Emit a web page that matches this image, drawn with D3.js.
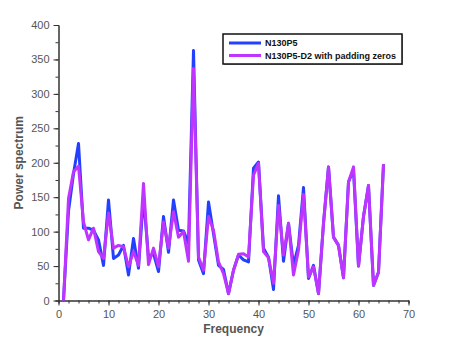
<!DOCTYPE html>
<html>
<head>
<meta charset="utf-8">
<script src="https://cdn.jsdelivr.net/npm/d3@7"></script>
<style>
  body { margin: 0; background: #fff; }
  .axis text { font-family: "Liberation Sans", Arial, sans-serif; font-size: 11px; fill: #555; }
  .axis path, .axis line { stroke: #333; }
</style>
</head>
<body>
<div id="chart"></div>
<script>
// chart size
var margin = {top: 25, right: 41.5, bottom: 37.5, left: 58.5},
    width = 450 - margin.left - margin.right,
    height = 338 - margin.top - margin.bottom;

// data
var freq = d3.range(1, 66);
var seriesNames = ["N130P5", "N130P5-D2 with padding zeros"];
var n130p5 = [0, 130, 184, 228, 105, 105, 102, 88, 51, 146,
              61, 66, 80, 37, 90, 47, 150, 63, 68, 42,
              122, 70, 146, 102, 101, 83, 363, 59, 39, 143,
              97, 51, 45, 10, 44, 66, 59, 56, 192, 201,
              76, 63, 16, 152, 57, 112, 51, 80, 164, 32,
              51, 10, 112, 194, 92, 80, 33, 172, 190, 50,
              122, 167, 22, 41, 198];
var padded = [0, 148, 187, 195, 114, 88, 105, 71, 61, 127,
              76, 80, 78, 49, 71, 51, 170, 52, 76, 49,
              114, 76, 129, 92, 100, 57, 337, 63, 44, 122,
              102, 56, 39, 10, 44, 67, 68, 63, 182, 199,
              71, 62, 25, 138, 66, 112, 37, 73, 154, 34,
              49, 10, 112, 194, 92, 80, 33, 172, 194, 50,
              122, 167, 22, 41, 198];
var colors = ["#2440ff", "#bf35ff"];
var xMajor = [0, 10, 20, 30, 40, 50, 60, 70];
var yMajor = [0, 50, 100, 150, 200, 250, 300, 350, 400];

var svg = d3.select("#chart").append("svg")
    .attr("width", 450)
    .attr("height", 338);

var g = svg.append("g")
    .attr("transform", "translate(" + margin.left + "," + margin.top + ")");

var xScale = d3.scaleLinear().domain([0, 70]).range([0, width]);
var yScale = d3.scaleLinear().domain([0, 400]).range([height, 0]);

// minor ticks first, then the major ones with labels
g.append("g")
    .attr("class", "axis")
    .attr("transform", "translate(0," + height + ")")
    .call(d3.axisBottom(xScale).tickValues(d3.range(0, 71, 2)).tickSize(3).tickFormat(""));
g.append("g")
    .attr("class", "axis")
    .attr("transform", "translate(0," + height + ")")
    .call(d3.axisBottom(xScale).tickValues(xMajor).tickSize(5).tickSizeOuter(0).tickPadding(5));

g.append("g")
    .attr("class", "axis")
    .call(d3.axisLeft(yScale).tickValues(d3.range(0, 401, 25)).tickSize(3).tickFormat(""));
g.append("g")
    .attr("class", "axis")
    .call(d3.axisLeft(yScale).tickValues(yMajor).tickSize(5).tickSizeOuter(0).tickPadding(4));

// axis titles
svg.append("text")
    .attr("x", margin.left + xScale(35))
    .attr("y", 333)
    .attr("text-anchor", "middle")
    .style("font-family", "Liberation Sans, Arial, sans-serif")
    .style("font-size", "12px")
    .style("font-weight", "bold")
    .style("fill", "#555")
    .text("Frequency");

svg.append("text")
    .attr("transform", "translate(23," + (margin.top + yScale(200)) + ") rotate(-90)")
    .attr("text-anchor", "middle")
    .style("font-family", "Liberation Sans, Arial, sans-serif")
    .style("font-size", "12px")
    .style("font-weight", "bold")
    .style("fill", "#555")
    .text("Power spectrum");

// lines
var line = d3.line()
    .x(function(d, i) { return xScale(freq[i]); })
    .y(function(d) { return yScale(d); });

[n130p5, padded].forEach(function(s, i) {
  g.append("path")
      .datum(s)
      .attr("fill", "none")
      .attr("stroke", colors[i])
      .attr("stroke-width", 3)
      .attr("stroke-linejoin", "round")
      .attr("d", line);
});

// legend
var legend = svg.append("g").attr("transform", "translate(223,34)");
legend.append("rect")
    .attr("x", 1).attr("y", 1)
    .attr("width", 179).attr("height", 30)
    .attr("fill", "#999");
legend.append("rect")
    .attr("width", 179).attr("height", 30)
    .attr("fill", "#fff")
    .attr("stroke", "#111")
    .attr("stroke-width", 1.5);

seriesNames.forEach(function(name, i) {
  legend.append("line")
      .attr("x1", 6).attr("x2", 38)
      .attr("y1", 9 + i * 12.5).attr("y2", 9 + i * 12.5)
      .attr("stroke", colors[i])
      .attr("stroke-width", 3);
  legend.append("text")
      .attr("x", 42)
      .attr("y", 12 + i * 12.5)
      .style("font-family", "Liberation Sans, Arial, sans-serif")
      .style("font-size", "9px")
      .style("font-weight", "bold")
      .style("fill", "#111")
      .text(name);
});
</script>
</body>
</html>
